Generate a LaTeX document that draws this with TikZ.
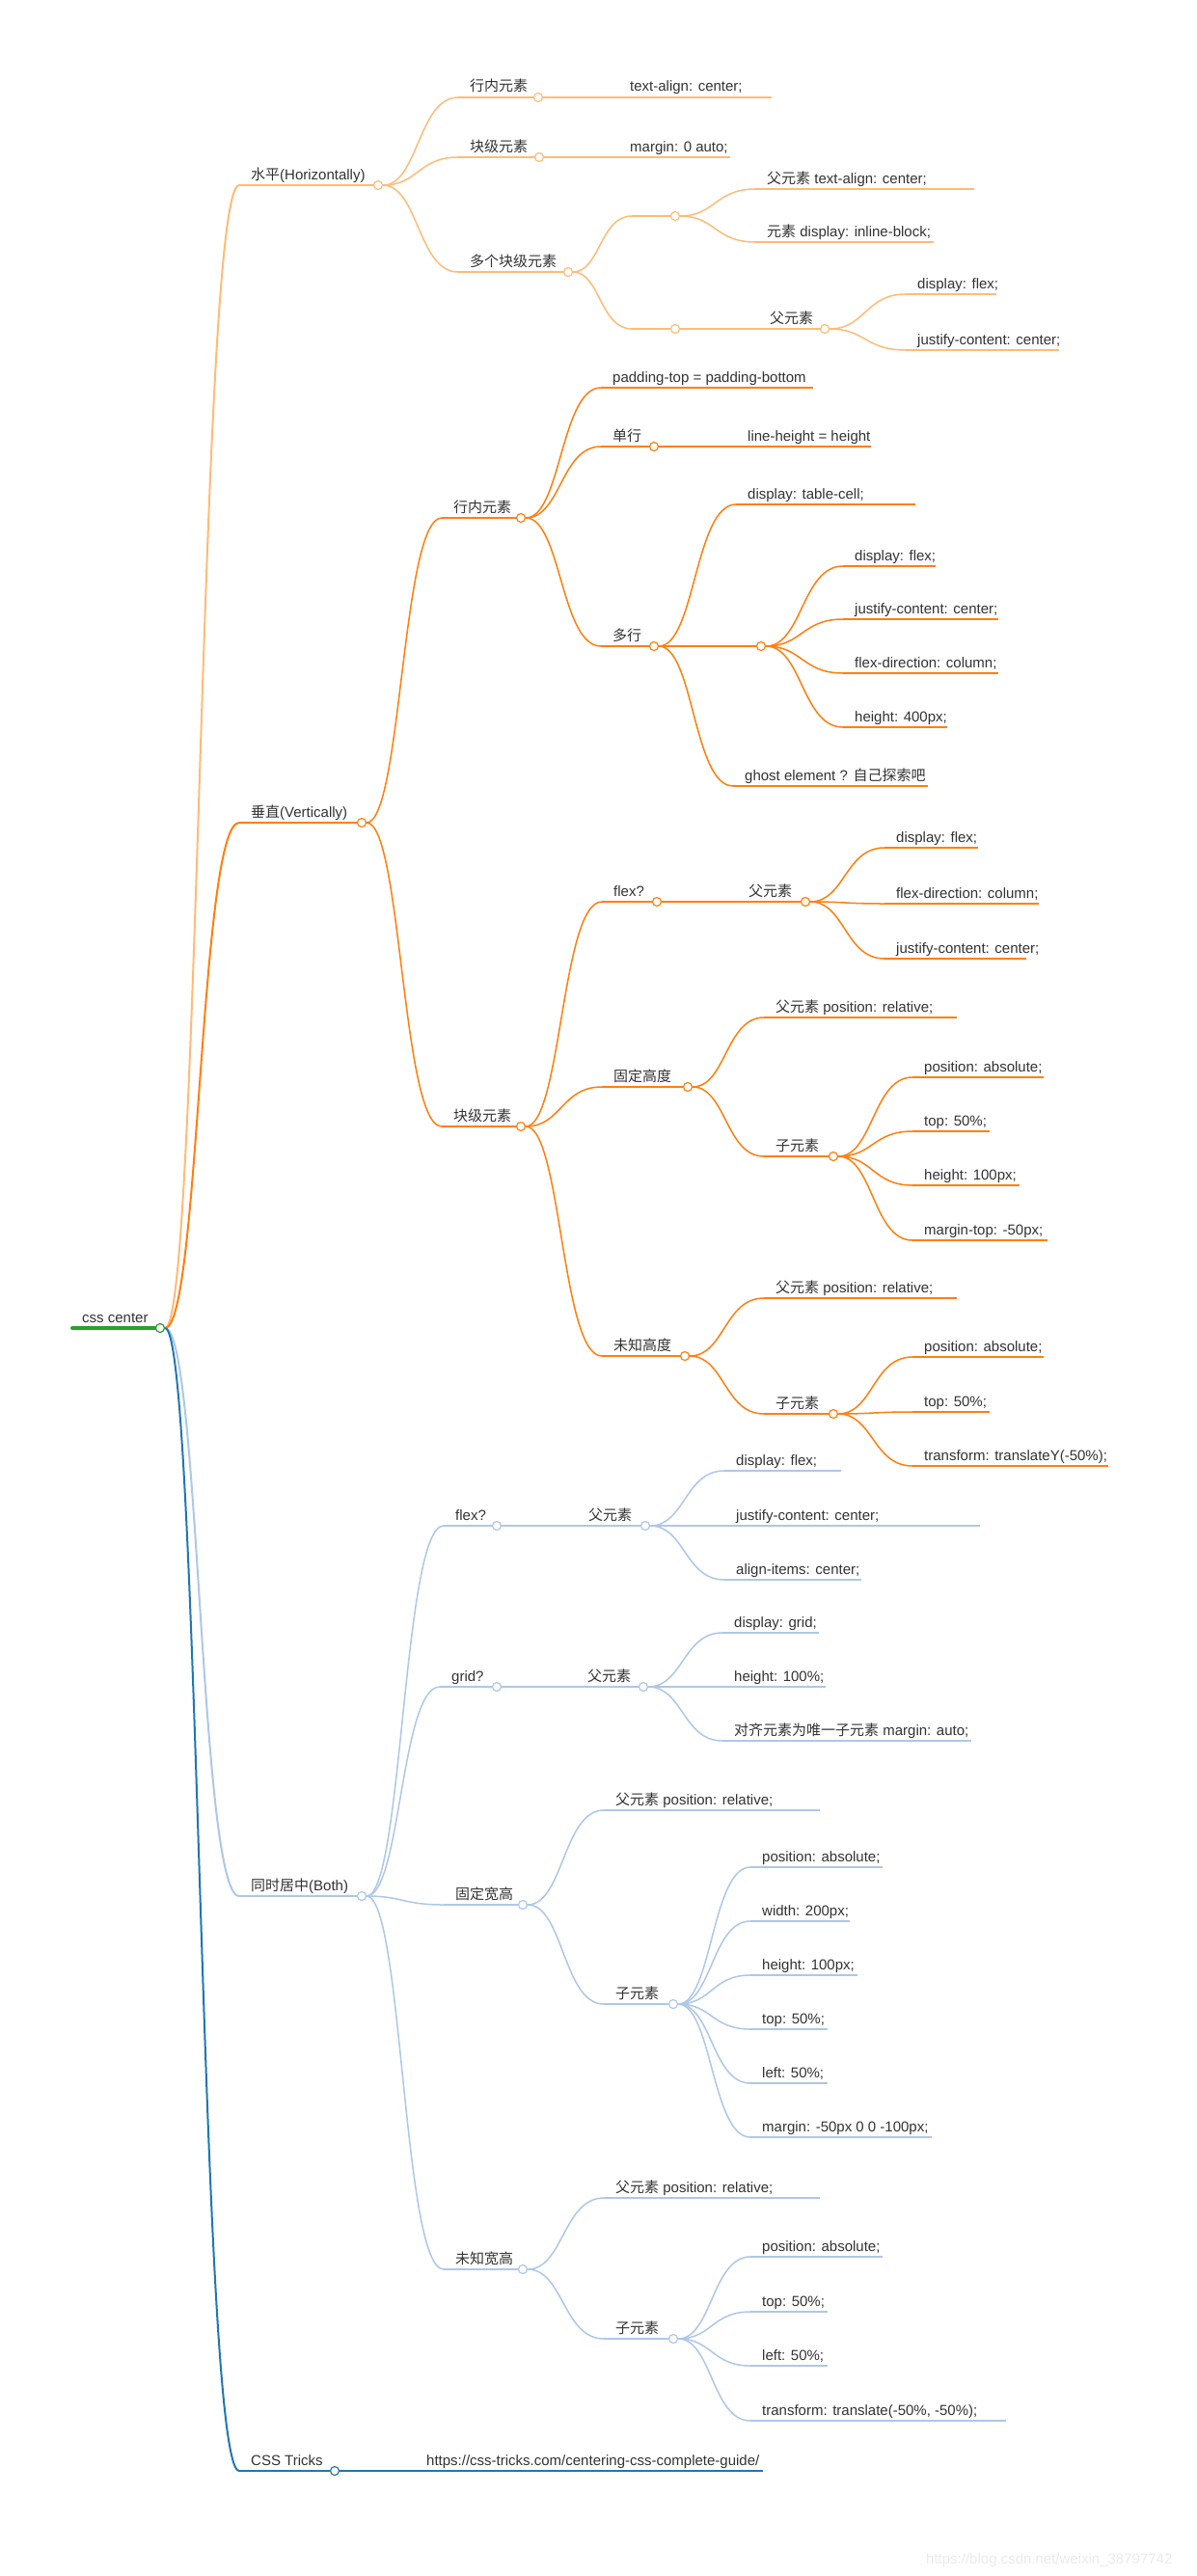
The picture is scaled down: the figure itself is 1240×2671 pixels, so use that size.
\documentclass[tikz,border=0pt]{standalone}
\usepackage{fontspec}
\setmainfont{Liberation Sans}
\newfontfamily\cjk{Noto Sans CJK SC}
\newcommand\zh[1]{{\cjk #1}}
\usetikzlibrary{calc}
\pgfdeclarelayer{back}\pgfdeclarelayer{bg}\pgfsetlayers{back,bg,main}
\definecolor{HL}{HTML}{FFBB78}
\definecolor{VT}{HTML}{FF7F0E}
\definecolor{BT}{HTML}{AEC7E8}
\definecolor{CT}{HTML}{1F77B4}
\definecolor{RT}{HTML}{2CA02C}
\definecolor{TX}{HTML}{333333}
\tikzset{
  dot/.style={circle,minimum size=9pt,inner sep=0pt,fill=white,line width=1.2pt},
  lbl/.style={anchor=base west,inner sep=0pt,text=TX,font=\fontsize{15}{18}\selectfont},
}
% name, textx, circlex, y, text, color, width
\newcommand\mnode[7]{%
  \coordinate (#1-s) at ({#2-12},#4);
  \begin{pgfonlayer}{bg}\draw[#6,line width=#7pt] (#1-s) -- (#3,#4);\end{pgfonlayer}
  \node[dot,draw=#6] (#1) at (#3,#4) {};
  \node[lbl] (#1-t) at (#2,{#4-6}) {#5};
}
% parent, name, startx, circlex, y, color
\newcommand\bnode[6]{%
  \coordinate (#2-s) at (#3,#5);
  \begin{pgfonlayer}{bg}\draw[#6,line width=1.5pt] (#2-s) -- (#4,#5);\end{pgfonlayer}
  \node[dot,draw=#6] (#2) at (#4,#5) {};
  \conn{#1}{#2}{#6}{1.5}%
}
% parent, child, color, width
\newcommand\conn[4]{%
  \begin{pgfonlayer}{bg}
  \path ($(#1)!.5!(#2-s)$) coordinate (#2-m);
  \draw[#3,line width=#4pt] (#1) .. controls (#2-m |- #1) and (#2-m |- #2-s) .. (#2-s);
  \end{pgfonlayer}
}
% parent, name, textx, circlex, y, text, color
\newcommand\child[7]{\mnode{#2}{#3}{#4}{#5}{#6}{#7}{1.5}\conn{#1}{#2}{#7}{1.5}}
% parent, name, textx, endx, y, text, color
\newcommand\leaf[7]{%
  \coordinate (#2-s) at ({#3-12},#5);
  \begin{pgfonlayer}{bg}\draw[#7,line width=1.5pt] (#2-s) -- (#4,#5);\end{pgfonlayer}
  \node[lbl] (#2) at (#3,{#5-6}) {#6};
  \conn{#1}{#2}{#7}{1.5}%
}
\begin{document}
\begin{tikzpicture}[x=1pt,y=-1pt]
\begin{pgfonlayer}{back}
\fill[white] (0,0) rectangle (1240,2671);
\end{pgfonlayer}
\useasboundingbox (0,0) rectangle (1240,2671);
% root
\coordinate (root-s) at (75,1377);
\begin{pgfonlayer}{bg}\draw[RT,line width=4pt,line cap=round] (root-s) -- (166,1377);\end{pgfonlayer}
\node[dot,draw=RT] (root) at (166,1377) {};
\node[lbl] (root-t) at (85,1371) {css center};

% ---------- horizontal
\mnode{h}{260}{392}{192}{\zh{水平}(Horizontally)}{HL}{2.2}\conn{root}{h}{HL}{2}
\child{h}{h1}{487}{558}{101}{\zh{行内元素}}{HL}
\leaf{h1}{h1a}{653}{800}{101}{text-align: center;}{HL}
\child{h}{h2}{487}{559}{163}{\zh{块级元素}}{HL}
\leaf{h2}{h2a}{653}{757}{163}{margin: 0 auto;}{HL}
\child{h}{h3}{487}{589}{282}{\zh{多个块级元素}}{HL}
\bnode{h3}{h3a}{655}{700}{224}{HL}
\leaf{h3a}{h3a1}{795}{1010}{196}{\zh{父元素} text-align: center;}{HL}
\leaf{h3a}{h3a2}{795}{968}{251}{\zh{元素} display: inline-block;}{HL}
\bnode{h3}{h3b}{655}{700}{341}{HL}
\child{h3b}{h3b1}{798}{855}{341}{\zh{父元素}}{HL}
\leaf{h3b1}{h3b1a}{951}{1033}{305}{display: flex;}{HL}
\leaf{h3b1}{h3b1b}{951}{1098}{363}{justify-content: center;}{HL}

% ---------- vertical
\mnode{v}{260}{375}{853}{\zh{垂直}(Vertically)}{VT}{2.2}\conn{root}{v}{VT}{2}
\child{v}{v1}{470}{540}{537}{\zh{行内元素}}{VT}
\leaf{v1}{v1a}{635}{843}{402}{padding-top = padding-bottom}{VT}
\child{v1}{v1b}{635}{678}{463}{\zh{单行}}{VT}
\leaf{v1b}{v1b1}{775}{903}{463}{line-height = height}{VT}
\child{v1}{v1c}{635}{678}{670}{\zh{多行}}{VT}
\leaf{v1c}{v1c1}{775}{949}{523}{display: table-cell;}{VT}
\bnode{v1c}{v1c2}{740}{789}{670}{VT}
\leaf{v1c2}{v1c2a}{886}{970}{587}{display: flex;}{VT}
\leaf{v1c2}{v1c2b}{886}{1035}{642}{justify-content: center;}{VT}
\leaf{v1c2}{v1c2c}{886}{1035}{698}{flex-direction: column;}{VT}
\leaf{v1c2}{v1c2d}{886}{982}{754}{height: 400px;}{VT}
\leaf{v1c}{v1c3}{772}{962}{815}{ghost element ? \zh{自己探索吧}}{VT}
\child{v}{v2}{470}{540}{1168}{\zh{块级元素}}{VT}
\child{v2}{v2a}{636}{681}{935}{flex?}{VT}
\child{v2a}{v2a1}{776}{835}{935}{\zh{父元素}}{VT}
\leaf{v2a1}{v2a1a}{929}{1014}{879}{display: flex;}{VT}
\leaf{v2a1}{v2a1b}{929}{1077}{937}{flex-direction: column;}{VT}
\leaf{v2a1}{v2a1c}{929}{1064}{994}{justify-content: center;}{VT}
\child{v2}{v2b}{636}{713}{1127}{\zh{固定高度}}{VT}
\leaf{v2b}{v2b1}{804}{992}{1055}{\zh{父元素} position: relative;}{VT}
\child{v2b}{v2b2}{804}{864}{1199}{\zh{子元素}}{VT}
\leaf{v2b2}{v2b2a}{958}{1082}{1117}{position: absolute;}{VT}
\leaf{v2b2}{v2b2b}{958}{1026}{1173}{top: 50\%;}{VT}
\leaf{v2b2}{v2b2c}{958}{1057}{1229}{height: 100px;}{VT}
\leaf{v2b2}{v2b2d}{958}{1086}{1286}{margin-top: -50px;}{VT}
\child{v2}{v2c}{636}{710}{1406}{\zh{未知高度}}{VT}
\leaf{v2c}{v2c1}{804}{992}{1346}{\zh{父元素} position: relative;}{VT}
\child{v2c}{v2c2}{804}{864}{1466}{\zh{子元素}}{VT}
\leaf{v2c2}{v2c2a}{958}{1082}{1407}{position: absolute;}{VT}
\leaf{v2c2}{v2c2b}{958}{1026}{1464}{top: 50\%;}{VT}
\leaf{v2c2}{v2c2c}{958}{1149}{1520}{transform: translateY(-50\%);}{VT}

% ---------- both
\mnode{b}{260}{375}{1966}{\zh{同时居中}(Both)}{BT}{2.2}\conn{root}{b}{BT}{2}
\child{b}{b1}{472}{515}{1582}{flex?}{BT}
\child{b1}{b11}{610}{669}{1582}{\zh{父元素}}{BT}
\leaf{b11}{b11a}{763}{872}{1525}{display: flex;}{BT}
\leaf{b11}{b11b}{763}{1016}{1582}{justify-content: center;}{BT}
\leaf{b11}{b11c}{763}{893}{1638}{align-items: center;}{BT}
\child{b}{b2}{468}{515}{1749}{grid?}{BT}
\child{b2}{b21}{609}{667}{1749}{\zh{父元素}}{BT}
\leaf{b21}{b21a}{761}{849}{1693}{display: grid;}{BT}
\leaf{b21}{b21b}{761}{856}{1749}{height: 100\%;}{BT}
\leaf{b21}{b21c}{761}{1007}{1805}{\zh{对齐元素为唯一子元素} margin: auto;}{BT}
\child{b}{b3}{472}{542}{1975}{\zh{固定宽高}}{BT}
\leaf{b3}{b31}{638}{850}{1877}{\zh{父元素} position: relative;}{BT}
\child{b3}{b32}{638}{698}{2078}{\zh{子元素}}{BT}
\leaf{b32}{b32a}{790}{915}{1936}{position: absolute;}{BT}
\leaf{b32}{b32b}{790}{881}{1992}{width: 200px;}{BT}
\leaf{b32}{b32c}{790}{889}{2048}{height: 100px;}{BT}
\leaf{b32}{b32d}{790}{858}{2104}{top: 50\%;}{BT}
\leaf{b32}{b32e}{790}{858}{2160}{left: 50\%;}{BT}
\leaf{b32}{b32f}{790}{966}{2216}{margin: -50px 0 0 -100px;}{BT}
\child{b}{b4}{472}{542}{2353}{\zh{未知宽高}}{BT}
\leaf{b4}{b41}{638}{850}{2279}{\zh{父元素} position: relative;}{BT}
\child{b4}{b42}{638}{698}{2425}{\zh{子元素}}{BT}
\leaf{b42}{b42a}{790}{915}{2340}{position: absolute;}{BT}
\leaf{b42}{b42b}{790}{858}{2397}{top: 50\%;}{BT}
\leaf{b42}{b42c}{790}{858}{2453}{left: 50\%;}{BT}
\leaf{b42}{b42d}{790}{1043}{2510}{transform: translate(-50\%, -50\%);}{BT}

% ---------- css tricks
\mnode{c}{260}{347}{2562}{CSS Tricks}{CT}{2.2}\conn{root}{c}{CT}{2}
\leaf{c}{c1}{442}{791}{2562}{https://css-tricks.com/centering-css-complete-guide/}{CT}

\node[lbl,text=black!8] (wm) at (960,2658) {https://blog.csdn.net/weixin\_38797742};
\end{tikzpicture}
\end{document}
